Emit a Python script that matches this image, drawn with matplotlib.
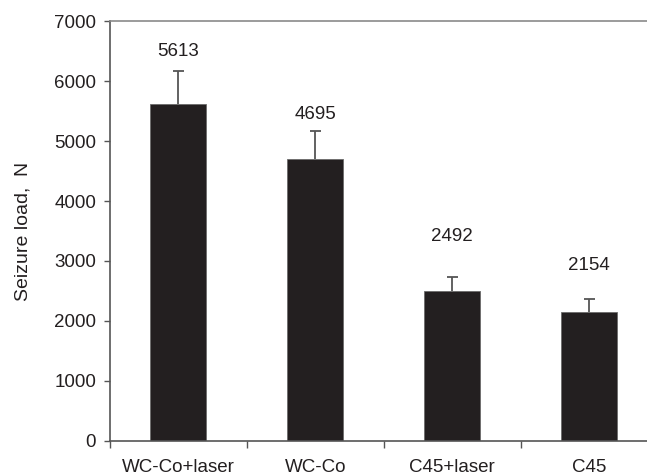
import matplotlib.pyplot as plt
import numpy as np

plt.rcParams['font.family'] = ['Liberation Sans', 'DejaVu Sans']

materials = ['WC-Co+laser', 'WC-Co', 'C45+laser', 'C45']
seizure_load = [5613, 4695, 2492, 2154]
load_err = [565, 480, 246, 206]
# where the value labels sit (N)
label_y = [6500, 5440, 3400, 2930]

bar_col = '#231f20'
line_col = '#555555'
fs = 13.5

fig = plt.figure(figsize=(6.47, 4.76), dpi=100)
ax = fig.add_axes([110 / 647, 0.0742, 547.5 / 647, 0.881])

x = np.arange(len(materials))
ax.bar(x, seizure_load, width=0.41, color=bar_col, edgecolor='#6b6b6b', linewidth=0.6,
       zorder=2)

# upper half of the error bars only
tops = np.array(seizure_load) + np.array(load_err)
ax.vlines(x, seizure_load, tops, color=line_col, linewidth=1.3, zorder=1)
ax.hlines(tops, x - 0.04, x + 0.04, color=line_col, linewidth=1.3, zorder=1)

for xi, v, ly in zip(x, seizure_load, label_y):
    ax.text(xi, ly, str(v), ha='center', va='center', fontsize=fs, color='#231f20')

ax.set_xlim(-0.5, 3.5)
ax.set_ylim(0, 7000)
ax.set_yticks(range(0, 7001, 1000))

# separators between groups as major ticks, names on minor ticks
ax.set_xticks(np.arange(-0.5, 3.6, 1.0))
ax.set_xticklabels([])
ax.set_xticks(x, minor=True)
ax.set_xticklabels(materials, minor=True)
ax.tick_params(axis='x', which='major', direction='out', length=5, width=1, color=line_col)
ax.tick_params(axis='x', which='minor', length=0, pad=13.5, labelsize=fs, labelcolor='#231f20')
ax.tick_params(axis='y', direction='out', length=4, width=1, color=line_col, pad=6,
               labelsize=fs, labelcolor='#231f20')

ax.set_ylabel('Seizure load,  N', fontsize=fs + 0.5, color='#231f20', labelpad=16)

ax.spines['right'].set_visible(False)
for s in ['left', 'bottom']:
    ax.spines[s].set_color(line_col)
    ax.spines[s].set_linewidth(1.2)
ax.spines['top'].set_color('#8a8a8a')
ax.spines['top'].set_linewidth(1.2)

fig.savefig('out.png', dpi=100)
